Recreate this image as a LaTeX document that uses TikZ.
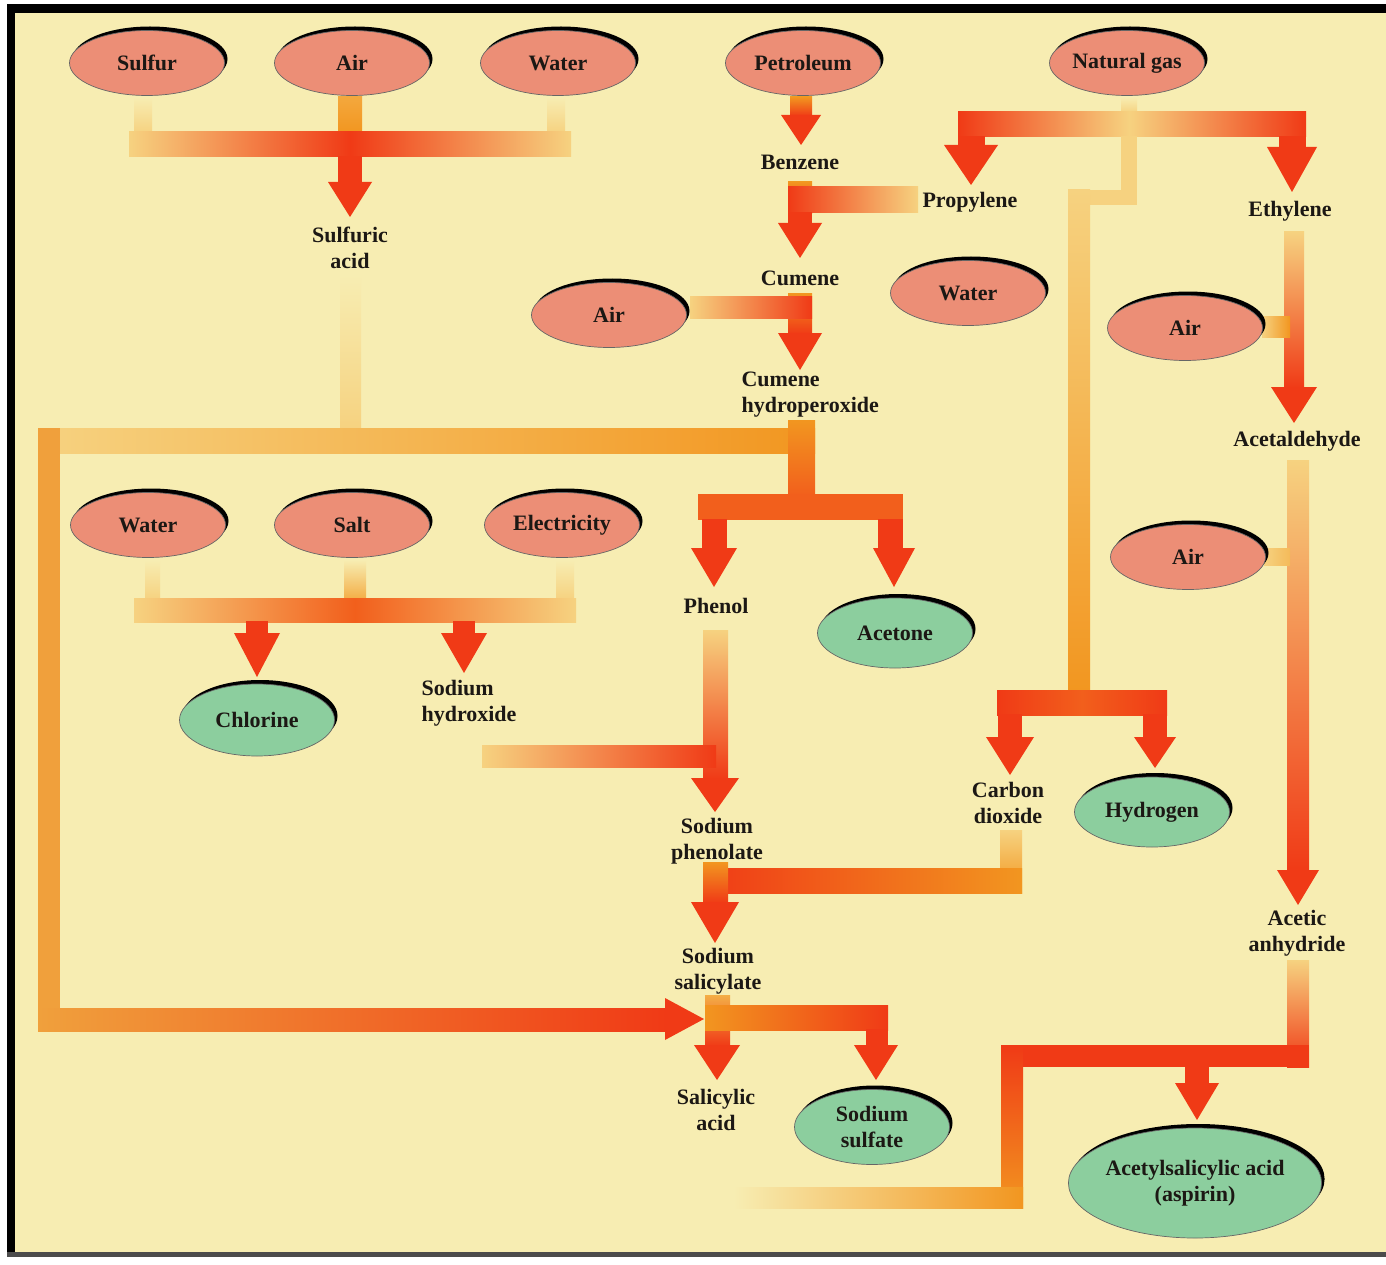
\documentclass[tikz,border=0pt]{standalone}
\usepackage{fontspec}
\setmainfont{Liberation Serif}
\usetikzlibrary{shapes.geometric,shadows}
\definecolor{paper}{RGB}{247,237,178}
\definecolor{pale}{RGB}{246,210,128}
\definecolor{flowor}{RGB}{242,150,32}
\definecolor{floworrd}{RGB}{242,95,28}
\definecolor{flowrd}{RGB}{240,58,22}
\definecolor{loopor}{RGB}{240,160,60}
\definecolor{rawpink}{RGB}{236,142,118}
\definecolor{prodgreen}{RGB}{140,206,158}
\definecolor{ink}{RGB}{28,24,20}
\newcommand\labelfont{\bfseries\fontsize{22}{26}\selectfont}
\newcommand\downtip[4]{\fill[redtip] ({#1-#3},#2) -- ({#1+#3},#2) -- (#1,#4) -- cycle;}
\newcommand\righttip[4]{\fill[redtip] (#1,{#2-#3}) -- (#1,{#2+#3}) -- (#4,#2) -- cycle;}

\begin{document}
\begin{tikzpicture}[x=1pt,y=-1pt,
    chem/.style={ellipse,minimum width=155pt,minimum height=65pt,inner sep=0pt,
      draw=black!60,line width=0.7pt,font=\labelfont,text=ink,align=center,
      drop shadow={shadow xshift=3pt,shadow yshift=4pt,opacity=1,fill=black}},
    raw/.style={chem,fill=rawpink},
    product/.style={chem,fill=prodgreen},
    lbl/.style={font=\labelfont,text=ink,align=center},
    redtip/.style={fill=flowrd}]
  \useasboundingbox (0,0) rectangle (1386,1265);
  \fill[white] (0,0) rectangle (1386,1265);
  \fill[paper] (15,13) rectangle (1386,1252);
  \fill[black] (7,4) rectangle (1386,13);
  \fill[black] (7,4) rectangle (15,1257);
  \fill[black!70] (7,1252) rectangle (1386,1257);

  % sulfuric acid
  \shade[top color=paper,bottom color=pale] (134,97) rectangle (152,133);
  \shade[top color=paper,bottom color=pale] (547,97) rectangle (565,133);
  \shade[top color=flowor!70!pale,bottom color=flowor] (338,97) rectangle (362,133);
  \shade[left color=pale,right color=flowrd] (129,132) rectangle (350,157);
  \shade[left color=flowrd,right color=pale] (350,132) rectangle (571,157);
  \fill[flowrd] (338,156) rectangle (362,183);
  \downtip{350}{182}{22}{217}
  \shade[top color=paper,bottom color=pale] (340,275) rectangle (361,429);

  % petroleum and natural gas
  \shade[top color=flowor,bottom color=flowrd] (790,97) rectangle (812,116);
  \downtip{801}{115}{20}{145}
  \shade[top color=paper,bottom color=pale] (1121,97) rectangle (1137,113);
  \shade[left color=flowrd,right color=pale] (958,112) rectangle (1129,137);
  \shade[left color=pale,right color=flowrd] (1129,112) rectangle (1306,137);
  \fill[flowrd] (958,136) rectangle (985,146);
  \downtip{971}{145}{27}{185}
  \fill[flowrd] (1279,136) rectangle (1306,148);
  \downtip{1292}{147}{25}{192}
  \fill[pale] (1121,136) rectangle (1137,205);
  \fill[pale] (1068,190) rectangle (1137,205);
  \shade[top color=pale,bottom color=flowor] (1068,190) rectangle (1090,692);
  \shade[left color=flowrd,right color=flowrd,middle color=floworrd] (997,690) rectangle (1167,715);
  \fill[flowrd] (998,714) rectangle (1022,738);
  \downtip{1010}{737}{24}{775}
  \fill[flowrd] (1143,714) rectangle (1167,738);
  \downtip{1155}{737}{21}{768}

  % cumene route
  \shade[top color=flowor,bottom color=flowrd] (788,182) rectangle (812,214);
  \shade[left color=flowrd,right color=pale] (788,187) rectangle (918,213);
  \fill[flowrd] (788,212) rectangle (812,224);
  \downtip{800}{223}{22}{258}
  \shade[top color=flowor,bottom color=flowrd] (788,293) rectangle (812,334);
  \shade[left color=pale,right color=flowrd] (690,296) rectangle (812,318);
  \downtip{800}{333}{22}{370}

  % hydroperoxide split and loop
  \shade[left color=pale,right color=flowor] (38,428) rectangle (815,453);
  \shade[top color=flowor,bottom color=floworrd] (788,420) rectangle (815,496);
  \fill[loopor] (38,428) rectangle (60,1031);
  \shade[left color=loopor,right color=flowrd] (38,1008) rectangle (667,1031);
  \righttip{665}{1019}{21}{704}
  \fill[floworrd] (698,494) rectangle (903,520);
  \fill[flowrd] (702,519) rectangle (727,549);
  \downtip{714}{548}{23}{587}
  \fill[flowrd] (878,519) rectangle (903,549);
  \downtip{894}{548}{21}{587}

  % chlor-alkali
  \shade[top color=paper,bottom color=pale] (145,560) rectangle (160,599);
  \shade[top color=paper,bottom color=flowor!60!pale] (344,560) rectangle (366,599);
  \shade[top color=paper,bottom color=pale] (556,560) rectangle (574,599);
  \shade[left color=pale,right color=pale,middle color=floworrd] (134,598) rectangle (576,622);
  \fill[flowrd] (246,621) rectangle (268,634);
  \downtip{257}{633}{23}{677}
  \fill[flowrd] (453,621) rectangle (475,634);
  \downtip{464}{633}{23}{673}

  % phenolate, salicylate, salicylic acid
  \shade[top color=pale,bottom color=flowrd] (703,630) rectangle (728,779);
  \shade[left color=pale,right color=flowrd] (482,745) rectangle (716,767);
  \downtip{715}{778}{24}{812}
  \shade[top color=pale,bottom color=flowor] (1000,830) rectangle (1022,893);
  \shade[left color=flowrd,right color=flowor] (703,868) rectangle (1022,893);
  \shade[top color=flowor,bottom color=flowrd] (703,862) rectangle (728,903);
  \downtip{715}{902}{24}{943}
  \shade[top color=pale!40!flowor,bottom color=flowrd] (705,995) rectangle (730,1046);
  \shade[left color=flowor,right color=flowrd] (705,1005) rectangle (888,1030);
  \downtip{717}{1045}{23}{1080}
  \fill[flowrd] (866,1029) rectangle (888,1046);
  \downtip{876}{1045}{22}{1080}

  % acetic anhydride route
  \shade[top color=pale,bottom color=flowrd] (1284,232) rectangle (1304,388);
  \shade[left color=pale,right color=flowor] (1262,316) rectangle (1290,337);
  \downtip{1294}{387}{23}{423}
  \shade[top color=pale,bottom color=flowrd] (1287,460) rectangle (1309,871);
  \shade[left color=pale,right color=pale!60!flowor] (1264,548) rectangle (1290,565);
  \downtip{1298}{870}{21}{905}
  \shade[top color=pale,bottom color=flowrd] (1287,960) rectangle (1309,1067);
  \fill[flowrd] (1001,1045) rectangle (1309,1067);
  \shade[top color=flowrd,bottom color=flowor] (1001,1045) rectangle (1023,1208);
  \shade[left color=paper,right color=flowor] (734,1187) rectangle (1023,1208);
  \fill[flowrd] (1185,1066) rectangle (1209,1084);
  \downtip{1197}{1083}{22}{1120}

  \node[raw] (sulfur) at (147,63) {Sulfur};
  \node[raw] (air1) at (352,63) {Air};
  \node[raw] (water1) at (558,63) {Water};
  \node[raw] (petroleum) at (803,63) {Petroleum};
  \node[raw] (natgas) at (1127,63) {Natural gas};
  \node[raw] (air2) at (609,315) {Air};
  \node[raw] (water2) at (968,293) {Water};
  \node[raw] (air3) at (1185,328) {Air};
  \node[raw] (air4) at (1188,557) {Air};
  \node[raw] (water3) at (148,525) {Water};
  \node[raw] (salt) at (352,525) {Salt};
  \node[raw] (electricity) at (562,525) {Electricity};
  \node[product,minimum height=72pt] (chlorine) at (257,720) {Chlorine};
  \node[product,minimum height=70pt] (acetone) at (895,633) {Acetone};
  \node[product,minimum height=70pt] (hydrogen) at (1152,812) {Hydrogen};
  \node[product,minimum height=75pt] (nasulfate) at (872,1127) {Sodium\\sulfate};
  \node[product,minimum width=242pt,minimum height=110pt] (aspirin) at (1195,1183) {Acetylsalicylic acid\\(aspirin)};

  \node[lbl] (sulfacid) at (350,248) {Sulfuric\\acid};
  \node[lbl] (benzene) at (800,162) {Benzene};
  \node[lbl] (propylene) at (970,202) {Propylene};
  \node[lbl] (ethylene) at (1290,211) {Ethylene};
  \node[lbl] (cumene) at (800,278) {Cumene};
  \node[lbl,align=left,anchor=west] (cumhp) at (738,395) {Cumene\\hydroperoxide};
  \node[lbl] (acetald) at (1297,441) {Acetaldehyde};
  \node[lbl] (phenol) at (716,606) {Phenol};
  \node[lbl,align=left,anchor=west] (naoh) at (418,703) {Sodium\\hydroxide};
  \node[lbl] (co2) at (1008,803) {Carbon\\dioxide};
  \node[lbl] (naphen) at (717,841) {Sodium\\phenolate};
  \node[lbl] (acanhyd) at (1297,933) {Acetic\\anhydride};
  \node[lbl] (nasalic) at (718,971) {Sodium\\salicylate};
  \node[lbl] (salacid) at (716,1110) {Salicylic\\acid};
\end{tikzpicture}
\end{document}
